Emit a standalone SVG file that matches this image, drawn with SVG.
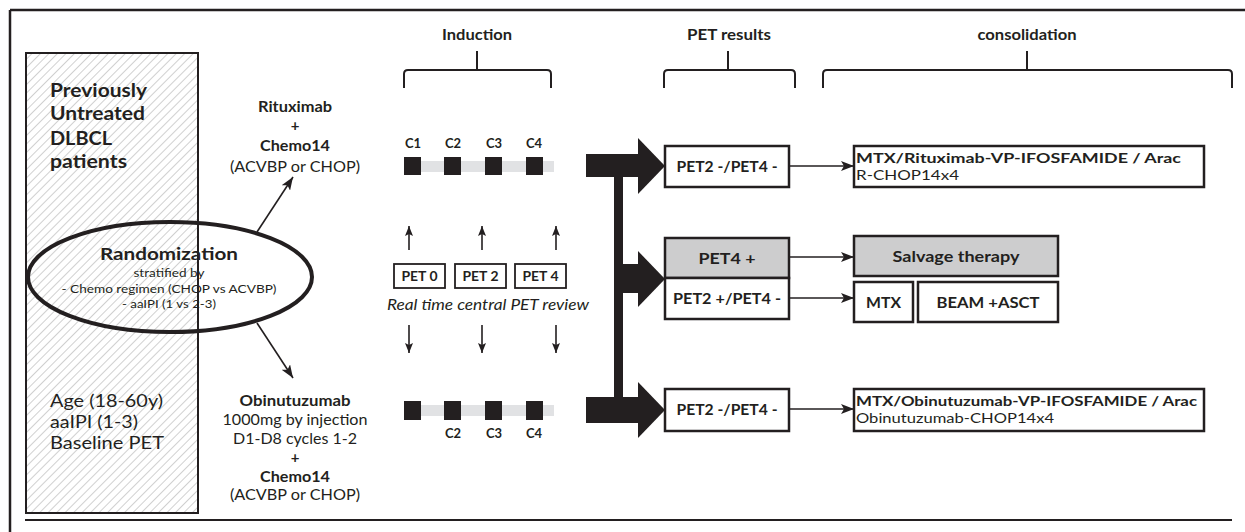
<svg xmlns="http://www.w3.org/2000/svg" width="1245" height="532" viewBox="0 0 1245 532">
<style>
text{font-family:Lato,"Liberation Sans",sans-serif;fill:#231f20}
.b{font-weight:bold}
.m{text-anchor:middle}
.box{fill:#fff;stroke:#231f20;stroke-width:2.5}
.grey{fill:#cdcdce;stroke:#231f20;stroke-width:2.5}
.pbox{fill:#fff;stroke:#231f20;stroke-width:1.8}
.ln{stroke:#231f20;stroke-width:1.6;fill:none}
.brace{stroke:#231f20;stroke-width:2;fill:none}
.sq{fill:#231f20}
.bar{fill:#e1e2e4}
.big{fill:#231f20}
</style>
<defs>
<pattern id="hatch" patternUnits="userSpaceOnUse" width="6" height="6" patternTransform="rotate(45)">
<line x1="0" y1="0" x2="0" y2="6" stroke="#8a8a8a" stroke-width="0.8"/>
</pattern>
<marker id="ah" markerUnits="userSpaceOnUse" markerWidth="13" markerHeight="10" refX="13" refY="5" orient="auto">
<path d="M0,0 L13,5 L0,10 L3,5 z" fill="#231f20"/>
</marker>
<marker id="ahs" markerUnits="userSpaceOnUse" markerWidth="10" markerHeight="8" refX="10" refY="4" orient="auto">
<path d="M0,0 L10,4 L0,8 L2,4 z" fill="#231f20"/>
</marker>
</defs>
<rect width="1245" height="532" fill="#fff"/>
<g id="frame">
<line x1="10" y1="10" x2="1245" y2="10" stroke="#231f20" stroke-width="2.5"/>
<line x1="10" y1="10" x2="10" y2="532" stroke="#231f20" stroke-width="2.5"/>
<line x1="25" y1="520" x2="1232" y2="520" stroke="#231f20" stroke-width="2"/>
</g>
<g id="population">
<rect x="26" y="53" width="172" height="460" fill="url(#hatch)" stroke="#231f20" stroke-width="2"/>
<text class="b" x="50" y="97" font-size="19" textLength="97" lengthAdjust="spacingAndGlyphs">Previously</text>
<text class="b" x="50" y="120" font-size="19" textLength="95" lengthAdjust="spacingAndGlyphs">Untreated</text>
<text class="b" x="50" y="145" font-size="19" textLength="62" lengthAdjust="spacingAndGlyphs">DLBCL</text>
<text class="b" x="50" y="168" font-size="19" textLength="77" lengthAdjust="spacingAndGlyphs">patients</text>
<text x="50" y="407" font-size="17" textLength="113" lengthAdjust="spacingAndGlyphs">Age (18-60y)</text>
<text x="50" y="428" font-size="17" textLength="88" lengthAdjust="spacingAndGlyphs">aaIPI (1-3)</text>
<text x="50" y="449" font-size="17" textLength="114" lengthAdjust="spacingAndGlyphs">Baseline PET</text>
</g>
<g id="randomization">
<ellipse cx="170" cy="277" rx="142" ry="55" fill="none" stroke="#231f20" stroke-width="4"/>
<text class="b m" x="169" y="260" font-size="17.5" textLength="138" lengthAdjust="spacingAndGlyphs">Randomization</text>
<text class="m" x="169" y="277" font-size="12" textLength="71" lengthAdjust="spacingAndGlyphs">stratified by</text>
<text class="m" x="169" y="293" font-size="12" textLength="215" lengthAdjust="spacingAndGlyphs">- Chemo regimen (CHOP vs ACVBP)</text>
<text class="m" x="169" y="308" font-size="12" textLength="94" lengthAdjust="spacingAndGlyphs">- aaIPI (1 vs 2-3)</text>
</g>
<g id="armR">
<text class="b m" x="295" y="112" font-size="15" textLength="74" lengthAdjust="spacingAndGlyphs">Rituximab</text>
<text class="b m" x="295" y="131" font-size="15">+</text>
<text class="b m" x="295" y="151" font-size="15" textLength="70" lengthAdjust="spacingAndGlyphs">Chemo14</text>
<text class="m" x="295" y="172" font-size="15.5" textLength="130" lengthAdjust="spacingAndGlyphs">(ACVBP or CHOP)</text>
</g>
<g id="armO">
<text class="b m" x="295" y="406" font-size="15" textLength="111" lengthAdjust="spacingAndGlyphs">Obinutuzumab</text>
<text class="m" x="295" y="425" font-size="15" textLength="145" lengthAdjust="spacingAndGlyphs">1000mg by injection</text>
<text class="m" x="295" y="444" font-size="15" textLength="124" lengthAdjust="spacingAndGlyphs">D1-D8 cycles 1-2</text>
<text class="b m" x="295" y="463" font-size="15">+</text>
<text class="b m" x="295" y="482" font-size="15" textLength="70" lengthAdjust="spacingAndGlyphs">Chemo14</text>
<text class="m" x="295" y="500" font-size="15" textLength="130" lengthAdjust="spacingAndGlyphs">(ACVBP or CHOP)</text>
</g>
<g id="headers">
<text class="b m" x="477" y="40" font-size="15" textLength="70" lengthAdjust="spacingAndGlyphs">Induction</text>
<path class="brace" d="M477,51 V70 M404,88 V74 Q404,70 408,70 H547 Q551,70 551,74 V88"/>
<text class="b m" x="729" y="40" font-size="15" textLength="84" lengthAdjust="spacingAndGlyphs">PET results</text>
<path class="brace" d="M728,51 V70 M664,88 V74 Q664,70 668,70 H791 Q795,70 795,74 V88"/>
<text class="b m" x="1027" y="40" font-size="15" textLength="99" lengthAdjust="spacingAndGlyphs">consolidation</text>
<path class="brace" d="M1027,51 V70 M823,88 V74 Q823,70 827,70 H1228 Q1232,70 1232,74 V88"/>
</g>
<g id="cyclesTop">
<rect class="bar" x="404" y="161" width="150" height="11"/>
<rect class="sq" x="404" y="157" width="17" height="18"/>
<rect class="sq" x="444" y="157" width="17" height="18"/>
<rect class="sq" x="485" y="157" width="17" height="18"/>
<rect class="sq" x="526" y="157" width="17" height="18"/>
<text class="b m" x="413" y="148" font-size="13">C1</text>
<text class="b m" x="453" y="148" font-size="13">C2</text>
<text class="b m" x="494" y="148" font-size="13">C3</text>
<text class="b m" x="534" y="148" font-size="13">C4</text>
</g>
<g id="cyclesBottom">
<rect class="bar" x="404" y="405" width="150" height="11"/>
<rect class="sq" x="404" y="401" width="17" height="19"/>
<rect class="sq" x="444" y="401" width="17" height="19"/>
<rect class="sq" x="485" y="401" width="17" height="19"/>
<rect class="sq" x="526" y="401" width="17" height="19"/>
<text class="b m" x="453" y="438" font-size="13">C2</text>
<text class="b m" x="494" y="438" font-size="13">C3</text>
<text class="b m" x="534" y="438" font-size="13">C4</text>
</g>
<g id="petReview">
<rect class="pbox" x="394" y="264" width="51" height="24"/>
<text class="b m" x="419.5" y="281" font-size="12.5" textLength="36" lengthAdjust="spacingAndGlyphs">PET 0</text>
<rect class="pbox" x="455" y="264" width="51" height="24"/>
<text class="b m" x="480.5" y="281" font-size="12.5" textLength="36" lengthAdjust="spacingAndGlyphs">PET 2</text>
<rect class="pbox" x="515" y="264" width="51" height="24"/>
<text class="b m" x="540.5" y="281" font-size="12.5" textLength="36" lengthAdjust="spacingAndGlyphs">PET 4</text>
<text class="m" x="488" y="310" font-size="15.5" font-style="italic" textLength="202" lengthAdjust="spacingAndGlyphs">Real time central PET review</text>
</g>
<g id="petResults">
<rect class="box" x="665" y="146" width="124" height="41"/>
<text class="b m" x="727" y="172" font-size="16" textLength="101" lengthAdjust="spacingAndGlyphs">PET2 -/PET4 -</text>
<rect class="grey" x="665" y="238" width="124" height="40"/>
<text class="b m" x="727" y="264" font-size="16" textLength="57" lengthAdjust="spacingAndGlyphs">PET4 +</text>
<rect class="box" x="665" y="278" width="124" height="41"/>
<text class="b m" x="727" y="304" font-size="16" textLength="108" lengthAdjust="spacingAndGlyphs">PET2 +/PET4 -</text>
<rect class="box" x="665" y="389" width="124" height="42"/>
<text class="b m" x="727" y="415" font-size="16" textLength="101" lengthAdjust="spacingAndGlyphs">PET2 -/PET4 -</text>
</g>
<g id="consolidationR">
<rect class="box" x="854" y="146" width="350" height="41"/>
<text class="b" x="856" y="163" font-size="14" textLength="325" lengthAdjust="spacingAndGlyphs">MTX/Rituximab-VP-IFOSFAMIDE / Arac</text>
<text x="856" y="180" font-size="14" textLength="103" lengthAdjust="spacingAndGlyphs">R-CHOP14x4</text>
</g>
<g id="salvage">
<rect class="grey" x="854" y="236" width="204" height="40"/>
<text class="b m" x="956" y="262" font-size="16" textLength="127" lengthAdjust="spacingAndGlyphs">Salvage therapy</text>
</g>
<g id="mtx">
<rect class="box" x="854" y="282" width="59" height="40"/>
<text class="b m" x="883.5" y="308" font-size="16" textLength="35" lengthAdjust="spacingAndGlyphs">MTX</text>
</g>
<g id="beam">
<rect class="box" x="918" y="282" width="140" height="40"/>
<text class="b m" x="988" y="308" font-size="16" textLength="103" lengthAdjust="spacingAndGlyphs">BEAM +ASCT</text>
</g>
<g id="consolidationO">
<rect class="box" x="854" y="389" width="350" height="42"/>
<text class="b" x="856" y="406" font-size="14" textLength="341" lengthAdjust="spacingAndGlyphs">MTX/Obinutuzumab-VP-IFOSFAMIDE / Arac</text>
<text x="856" y="423" font-size="14" textLength="198" lengthAdjust="spacingAndGlyphs">Obinutuzumab-CHOP14x4</text>
</g>
<g id="connectors">
<line class="ln" x1="257" y1="232" x2="293" y2="177" marker-end="url(#ah)"/>
<line class="ln" x1="257" y1="323" x2="293" y2="378" marker-end="url(#ah)"/>
<line class="ln" x1="409" y1="250" x2="409" y2="226" marker-end="url(#ahs)"/>
<line class="ln" x1="482" y1="250" x2="482" y2="226" marker-end="url(#ahs)"/>
<line class="ln" x1="556" y1="250" x2="556" y2="226" marker-end="url(#ahs)"/>
<line class="ln" x1="409" y1="325" x2="409" y2="353" marker-end="url(#ahs)"/>
<line class="ln" x1="482" y1="325" x2="482" y2="353" marker-end="url(#ahs)"/>
<line class="ln" x1="556" y1="325" x2="556" y2="353" marker-end="url(#ahs)"/>
<line class="ln" x1="789" y1="166" x2="854" y2="166" marker-end="url(#ah)"/>
<line class="ln" x1="789" y1="257" x2="854" y2="257" marker-end="url(#ah)"/>
<line class="ln" x1="789" y1="298" x2="854" y2="298" marker-end="url(#ah)"/>
<line class="ln" x1="789" y1="409" x2="854" y2="409" marker-end="url(#ah)"/>
<rect class="big" x="586" y="154" width="54" height="23"/>
<polygon class="big" points="638,138 665,166 638,194"/>
<rect class="big" x="614" y="170" width="9" height="235"/>
<rect class="big" x="620" y="264" width="20" height="29"/>
<polygon class="big" points="638,251 665,279 638,307"/>
<rect class="big" x="586" y="397" width="54" height="26"/>
<polygon class="big" points="638,382 665,410 638,438"/>
</g>
</svg>
